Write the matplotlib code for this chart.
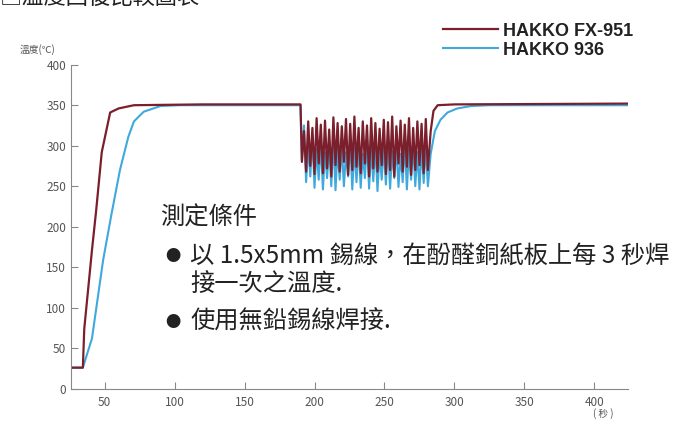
import matplotlib.pyplot as plt

plt.rcParams['font.family'] = ['Noto Sans CJK TC', 'DejaVu Sans']

# heat-up part (seconds, degC)
red_up_t = [26, 34.5, 35.5, 41, 44, 48, 54, 60, 71, 120, 190]
red_up_y = [26, 26, 74, 171, 220, 292, 341, 346, 350, 351, 351]
blue_up_t = [26, 34.5, 41, 49, 55, 61, 67, 71, 78, 90, 104, 190]
blue_up_y = [26, 26, 62, 159, 216, 270, 311, 330, 342, 349, 350, 350]

# soldering every 3 s
osc_t = [191, 192.5, 194, 195.5, 197, 198.5, 200, 201.5, 203, 204.5,
         206, 207.5, 209, 210.5, 212, 213.5, 215, 216.5, 218, 219.5,
         221, 222.5, 224, 225.5, 227, 228.5, 230, 231.5, 233, 234.5,
         236, 237.5, 239, 240.5, 242, 243.5, 245, 246.5, 248, 249.5,
         251, 252.5, 254, 255.5, 257, 258.5, 260, 261.5, 263, 264.5,
         266, 267.5, 269, 270.5, 272, 273.5, 275, 276.5, 278, 279.5, 281]
red_osc = [280, 318, 268, 330, 275, 322, 265, 334, 278, 326,
           266, 331, 272, 320, 262, 335, 276, 328, 268, 324,
           280, 333, 264, 327, 270, 336, 274, 322, 266, 330,
           278, 325, 262, 334, 272, 328, 268, 321, 276, 332,
           265, 329, 270, 336, 262, 324, 278, 331, 268, 326,
           274, 334, 264, 322, 270, 330, 276, 327, 266, 333, 270]
blue_osc = [282, 325, 255, 300, 262, 312, 248, 296, 258, 306,
            246, 292, 260, 303, 250, 310, 245, 296, 258, 300,
            250, 292, 262, 306, 246, 298, 255, 302, 248, 290,
            260, 305, 247, 296, 256, 302, 244, 292, 258, 300,
            252, 306, 247, 294, 260, 300, 249, 290, 255, 304,
            246, 296, 258, 300, 250, 292, 246, 298, 254, 300, 250]

# recovery
red_rec_t = [283, 285, 288, 300, 424]
red_rec_y = [318, 343, 350, 351, 352]
blue_rec_t = [283, 286, 290, 295, 302, 312, 325, 424]
blue_rec_y = [290, 318, 332, 341, 346, 349, 350, 350]

red_t = red_up_t + osc_t + red_rec_t
red_y = red_up_y + red_osc + red_rec_y
blue_t = blue_up_t + osc_t + blue_rec_t
blue_y = blue_up_y + blue_osc + blue_rec_y

fig = plt.figure(figsize=(6.89, 4.21), dpi=100)
ax = fig.add_axes([0.103, 0.0767, 0.8085, 0.7696])

ax.plot(blue_t, blue_y, color='#3fa9dc', lw=1.5, label='HAKKO 936')
ax.plot(red_t, red_y, color='#7a1f2b', lw=1.6, label='HAKKO FX-951')

ax.set_xlim(26, 424)
ax.set_ylim(0, 400)
ax.set_xticks([50, 100, 150, 200, 250, 300, 350, 400])
ax.set_yticks([0, 50, 100, 150, 200, 250, 300, 350, 400])
for s in ['top', 'right']:
    ax.spines[s].set_visible(False)
for s in ['left', 'bottom']:
    ax.spines[s].set_color('#888888')
ax.tick_params(direction='in', length=5, colors='#888888', labelcolor='#555555',
               labelsize=8.5)
ax.tick_params(axis='x', pad=5)

h, l = ax.get_legend_handles_labels()
leg = ax.legend(h[::-1], l[::-1], loc='upper left', bbox_to_anchor=(0.62, 0.985),
                bbox_transform=fig.transFigure, frameon=False,
                handlelength=3.0, handletextpad=0.3, labelspacing=0.12,
                prop={'family': ['Liberation Sans Narrow', 'Liberation Sans'],
                      'size': 13, 'weight': 'bold'})
for t in leg.get_texts():
    t.set_color('#222222')

fig.text(0.028, 1 - 50 / 421, '溫度(℃)', fontsize=7, color='#555555', va='center')
fig.text(0.86, 1 - 414 / 421, '( 秒 )', fontsize=7, color='#555555', va='center')
fig.text(0.0, 1 + 3 / 421, '□溫度回復比較圖表', fontsize=16, color='#222222', va='center')

txt = '#222222'
fig.text(160 / 689, 1 - 218 / 421, '測定條件', fontsize=17.5, color=txt, va='center')
fig.text(165 / 689, 1 - 256 / 421, '●', fontsize=11, color=txt, va='center')
fig.text(190 / 689, 1 - 256 / 421, '以 1.5x5mm 錫線，在酚醛銅紙板上每 3 秒焊',
         fontsize=17.5, color=txt, va='center')
fig.text(190 / 689, 1 - 284 / 421, '接一次之溫度.', fontsize=17.5, color=txt, va='center')
fig.text(165 / 689, 1 - 322 / 421, '●', fontsize=11, color=txt, va='center')
fig.text(190 / 689, 1 - 322 / 421, '使用無鉛錫線焊接.', fontsize=17.5, color=txt, va='center')

fig.savefig('out.png', dpi=100)
